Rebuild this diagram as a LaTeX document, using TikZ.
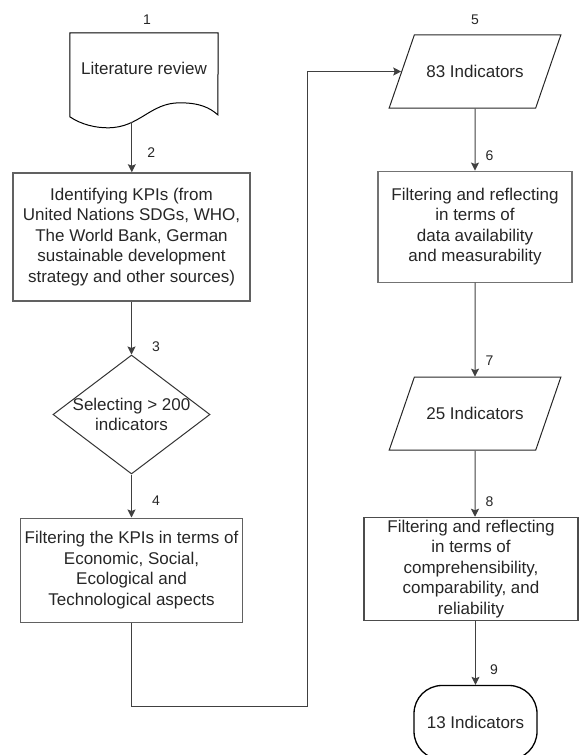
\documentclass[tikz,border=0pt]{standalone}
\usepackage{fontspec}
\setmainfont{Liberation Sans}
\usetikzlibrary{positioning, arrows.meta, shapes.geometric, calc}

\begin{document}
\begin{tikzpicture}[
		x=1pt, y=-1pt,
		node distance=60pt,
		txt/.style={font=\fontsize{17}{20.6}\selectfont, align=center, text=black!85},
		num/.style={font=\fontsize{14}{16}\selectfont, inner sep=0pt, text=black!85},
		box/.style={txt, rectangle, draw=black!62, line width=1.3pt, inner sep=0pt},
		io/.style={txt, trapezium, trapezium left angle=71, trapezium right angle=109,
			draw=black!85, line width=1pt, inner xsep=12pt, inner ysep=30.3pt},
		decide/.style={diamond, draw=black!80, line width=1pt, minimum width=157pt,
			minimum height=119pt, inner sep=0pt},
		terminal/.style={txt, rectangle, rounded corners=28pt, draw=black, line width=1.3pt,
			minimum width=123pt, minimum height=74pt},
		arrow/.style={-{Stealth[length=8pt, width=8pt, inset=1.5pt]}, draw=black!75, line width=1pt}
	]
		\useasboundingbox (0,0) rectangle (579,755);
		
		% left column
		\node[txt, minimum width=148pt, minimum height=70pt, inner sep=0pt] (lit) at (144,68) {Literature review};
		\draw[line width=1pt] (lit.north west) -- ++(0,84)
			.. controls +(12,8) and +(-12,0) .. ++(38,11)
			.. controls +(32,0) and +(-30,0) .. coordinate[pos=0.3] (litout) ++(72,-25)
			.. controls +(20,0) and +(-8,-7) .. ++(38,12)
			-- (lit.north east) -- cycle;
		\node[num, above=8pt of lit.north, xshift=3pt] (s1) {1};
		
		\node[box, minimum width=237pt, minimum height=128pt, below=69pt of lit, xshift=-12.5pt] (kpi)
			{Identifying KPIs (from\\United Nations SDGs, WHO,\\The World Bank, German\\sustainable development\\strategy and other sources)};
		\node[decide, below=53pt of kpi, label={[txt]center:Selecting > 200\\indicators}] (sel) {};
		\node[box, minimum width=222pt, minimum height=104pt, below=43pt of sel] (filt)
			{Filtering the KPIs in terms of\\Economic, Social,\\Ecological and\\Technological aspects};
		
		% right column
		\node[io] (ind83) at (475,71.5) {83 Indicators};
		\node[num, above=10pt of ind83.north] (s5) {5};
		\node[box, draw=black!55, line width=1.1pt, minimum width=194pt, minimum height=111pt, below=62pt of ind83] (chk)
			{Filtering and reflecting\\in terms of\\data availability\\and measurability};
		\node[io, below=94pt of chk] (ind25) {25 Indicators};
		\node[box, draw=black!70, line width=1.1pt, minimum width=214pt, minimum height=103pt, below=66pt of ind25, xshift=-4pt] (rel)
			{Filtering and reflecting\\in terms of\\comprehensibility,\\comparability, and\\reliability};
		\node[terminal, below=64pt of rel, xshift=4.5pt] (term) {13 Indicators};
		
		\coordinate (turn) at (307,706);
		
		\draw[arrow] (litout) -- (litout |- kpi.north) node[num, pos=.61, anchor=west, xshift=15pt] (s2) {2};
		\draw[arrow] (kpi) -- (sel) node[num, pos=.85, anchor=west, xshift=20pt] (s3) {3};
		\draw[arrow] (sel) -- (filt) node[num, pos=.6, anchor=west, xshift=20pt] (s4) {4};
		\draw[arrow] (filt) |- (turn) |- (ind83);
		\draw[arrow] (ind83) -- (chk) node[num, pos=.76, anchor=west, xshift=10pt] (s6) {6};
		\draw[arrow] (chk) -- (ind25) node[num, pos=.83, anchor=west, xshift=10pt] (s7) {7};
		\draw[arrow] (ind25) -- (ind25 |- rel.north) node[num, pos=.77, anchor=west, xshift=10pt] (s8) {8};
		\draw[arrow] (rel.south -| term) -- (term) node[num, pos=.77, anchor=west, xshift=14pt] (s9) {9};
	\end{tikzpicture}
\end{document}
